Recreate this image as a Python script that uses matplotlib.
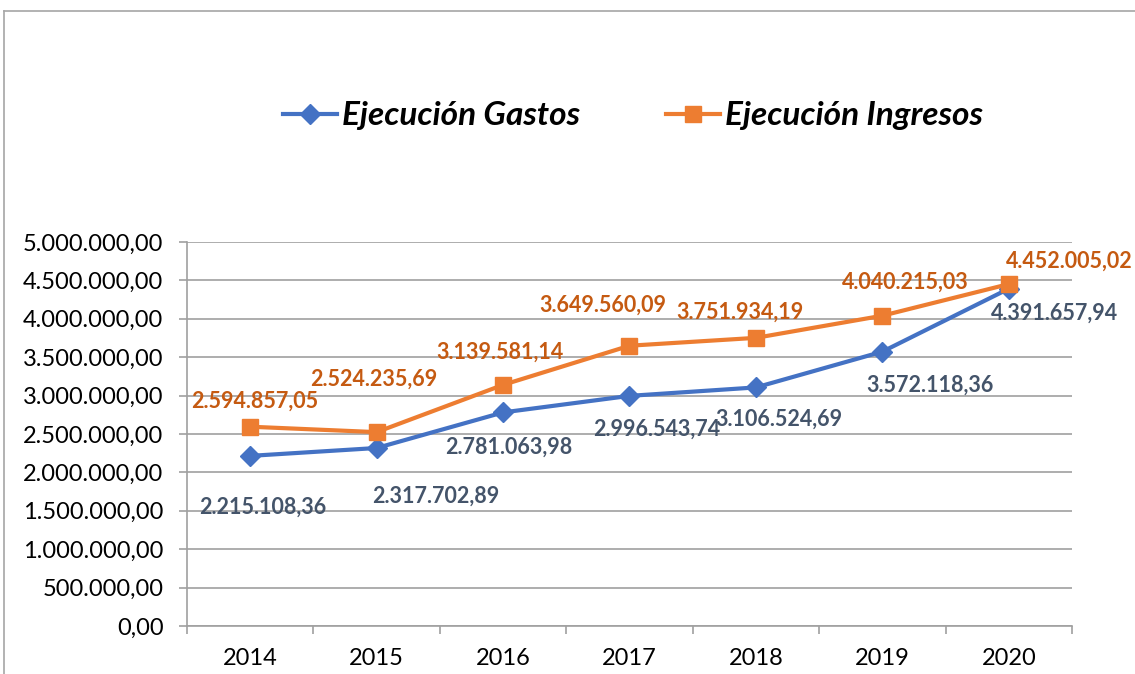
import matplotlib
matplotlib.use('Agg')
from matplotlib import pyplot as plt
from matplotlib.lines import Line2D
from matplotlib.ticker import FuncFormatter

years = ['2014', '2015', '2016', '2017', '2018', '2019', '2020']
gastos = [2215108.36, 2317702.89, 2781063.98, 2996543.74, 3106524.69, 3572118.36, 4391657.94]
ingresos = [2594857.05, 2524235.69, 3139581.14, 3649560.09, 3751934.19, 4040215.03, 4452005.02]

# label offsets (pixels, from the point) as placed in the original sheet
gastos_off = [(13, -51), (59, -48), (6, -35), (27, -33), (23, -32), (48, -34), (46, -24)]
ingresos_off = [(4, 26), (-3, 53), (-3, 33), (-27, 41), (-16, 26), (23, 34), (61, 23)]


def es_num(v):
    s = '{:,.2f}'.format(v)
    return s.replace(',', 'X').replace('.', ',').replace('X', '.')


plt.rcParams['font.family'] = ['Lato', 'DejaVu Sans']

fig = plt.figure(figsize=(11.35, 6.74), dpi=100)
ax = fig.add_axes([187 / 1135, 1 - 626 / 674, 885 / 1135, 384 / 674])

x = list(range(len(years)))
blue, orange = '#4472C4', '#ED7D31'
ax.plot(x, gastos, color=blue, linewidth=3, marker='D', markersize=10, label='Ejecución Gastos', zorder=3)
ax.plot(x, ingresos, color=orange, linewidth=3, marker='s', markersize=12, label='Ejecución Ingresos', zorder=4)

k = 0.72
for i in x:
    ax.annotate(es_num(gastos[i]), (i, gastos[i]), xytext=(gastos_off[i][0] * k, gastos_off[i][1] * k),
                textcoords='offset points', ha='center', va='center', fontsize=15.5, fontweight='bold',
                color='#44546A', zorder=5, annotation_clip=False)
    ax.annotate(es_num(ingresos[i]), (i, ingresos[i]), xytext=(ingresos_off[i][0] * k, ingresos_off[i][1] * k),
                textcoords='offset points', ha='center', va='center', fontsize=15.5, fontweight='bold',
                color='#C55A11', zorder=5, annotation_clip=False)

ax.set_xlim(-0.5, len(years) - 0.5)
ax.set_ylim(0, 5000000)
ax.set_yticks([i * 500000 for i in range(11)])
ax.yaxis.set_major_formatter(FuncFormatter(lambda v, p: es_num(v)))
ax.set_xticks(x)
ax.set_xticklabels(years)
ax.set_xticks([i + 0.5 for i in range(-1, len(years))], minor=True)
ax.tick_params(axis='x', which='major', length=0, pad=16, labelsize=17)
ax.tick_params(axis='x', which='minor', length=6, color='#A0A0A0', width=1.2)
ax.tick_params(axis='y', length=6, color='#A0A0A0', width=1.2, labelsize=17, pad=11)
ax.grid(axis='y', color='#A0A0A0', linewidth=1.2)
ax.set_axisbelow(True)
for side in ['top', 'right']:
    ax.spines[side].set_visible(False)
for side in ['left', 'bottom']:
    ax.spines[side].set_color('#A0A0A0')
    ax.spines[side].set_linewidth(1.2)

fig.legend(loc='center', bbox_to_anchor=(633 / 1135, 1 - 116 / 674), ncol=2, frameon=False,
           prop={'size': 24, 'weight': 'bold', 'style': 'italic'}, handlelength=1.6,
           handletextpad=0.15, columnspacing=2.6)

fig.add_artist(Line2D([4 / 1135, 1], [1 - 11 / 674, 1 - 11 / 674], color='#A6A6A6', linewidth=1.2))
fig.add_artist(Line2D([4 / 1135, 4 / 1135], [0, 1 - 11 / 674], color='#A6A6A6', linewidth=1.2))

fig.savefig('out.png', dpi=100)
